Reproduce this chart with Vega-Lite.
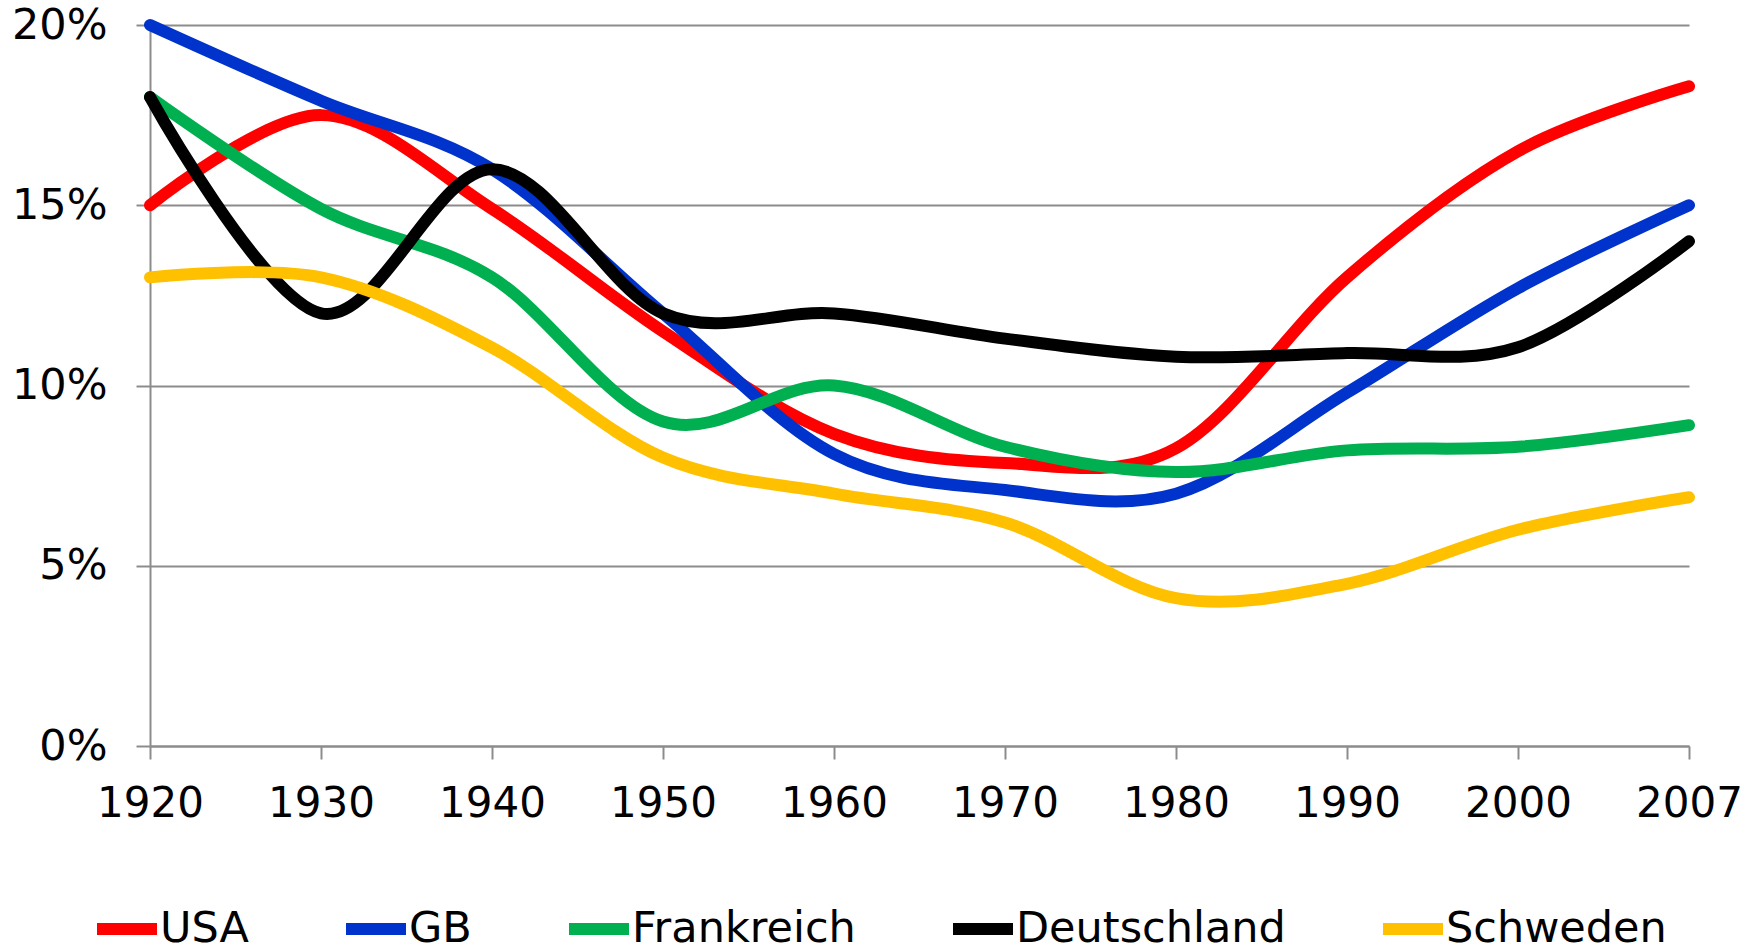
{
  "$schema": "https://vega.github.io/schema/vega-lite/v6.json",
  "autosize": {"type": "none"},
  "padding": {"left": 150, "top": 25, "right": 67, "bottom": 205},
  "width": 1539,
  "height": 721,
  "background": "white",
  "config": {
    "view": {"stroke": null},
    "font": "DejaVu Sans"
  },
  "data": {
    "values": [
      {"Jahr": "1920", "Land": "USA", "Wert": 0.150},
      {"Jahr": "1930", "Land": "USA", "Wert": 0.175},
      {"Jahr": "1940", "Land": "USA", "Wert": 0.149},
      {"Jahr": "1950", "Land": "USA", "Wert": 0.115},
      {"Jahr": "1960", "Land": "USA", "Wert": 0.0866},
      {"Jahr": "1970", "Land": "USA", "Wert": 0.0785},
      {"Jahr": "1980", "Land": "USA", "Wert": 0.0826},
      {"Jahr": "1990", "Land": "USA", "Wert": 0.130},
      {"Jahr": "2000", "Land": "USA", "Wert": 0.165},
      {"Jahr": "2007", "Land": "USA", "Wert": 0.183},
      {"Jahr": "1920", "Land": "GB", "Wert": 0.200},
      {"Jahr": "1930", "Land": "GB", "Wert": 0.179},
      {"Jahr": "1940", "Land": "GB", "Wert": 0.160},
      {"Jahr": "1950", "Land": "GB", "Wert": 0.120},
      {"Jahr": "1960", "Land": "GB", "Wert": 0.081},
      {"Jahr": "1970", "Land": "GB", "Wert": 0.071},
      {"Jahr": "1980", "Land": "GB", "Wert": 0.070},
      {"Jahr": "1990", "Land": "GB", "Wert": 0.098},
      {"Jahr": "2000", "Land": "GB", "Wert": 0.127},
      {"Jahr": "2007", "Land": "GB", "Wert": 0.150},
      {"Jahr": "1920", "Land": "Frankreich", "Wert": 0.180},
      {"Jahr": "1930", "Land": "Frankreich", "Wert": 0.149},
      {"Jahr": "1940", "Land": "Frankreich", "Wert": 0.130},
      {"Jahr": "1950", "Land": "Frankreich", "Wert": 0.090},
      {"Jahr": "1960", "Land": "Frankreich", "Wert": 0.100},
      {"Jahr": "1970", "Land": "Frankreich", "Wert": 0.083},
      {"Jahr": "1980", "Land": "Frankreich", "Wert": 0.076},
      {"Jahr": "1990", "Land": "Frankreich", "Wert": 0.082},
      {"Jahr": "2000", "Land": "Frankreich", "Wert": 0.083},
      {"Jahr": "2007", "Land": "Frankreich", "Wert": 0.089},
      {"Jahr": "1920", "Land": "Deutschland", "Wert": 0.180},
      {"Jahr": "1930", "Land": "Deutschland", "Wert": 0.120},
      {"Jahr": "1940", "Land": "Deutschland", "Wert": 0.160},
      {"Jahr": "1950", "Land": "Deutschland", "Wert": 0.120},
      {"Jahr": "1960", "Land": "Deutschland", "Wert": 0.120},
      {"Jahr": "1970", "Land": "Deutschland", "Wert": 0.113},
      {"Jahr": "1980", "Land": "Deutschland", "Wert": 0.108},
      {"Jahr": "1990", "Land": "Deutschland", "Wert": 0.109},
      {"Jahr": "2000", "Land": "Deutschland", "Wert": 0.1106},
      {"Jahr": "2007", "Land": "Deutschland", "Wert": 0.140},
      {"Jahr": "1920", "Land": "Schweden", "Wert": 0.130},
      {"Jahr": "1930", "Land": "Schweden", "Wert": 0.130},
      {"Jahr": "1940", "Land": "Schweden", "Wert": 0.1105},
      {"Jahr": "1950", "Land": "Schweden", "Wert": 0.080},
      {"Jahr": "1960", "Land": "Schweden", "Wert": 0.070},
      {"Jahr": "1970", "Land": "Schweden", "Wert": 0.062},
      {"Jahr": "1980", "Land": "Schweden", "Wert": 0.041},
      {"Jahr": "1990", "Land": "Schweden", "Wert": 0.045},
      {"Jahr": "2000", "Land": "Schweden", "Wert": 0.060},
      {"Jahr": "2007", "Land": "Schweden", "Wert": 0.069}
    ]
  },
  "mark": {"type": "line", "interpolate": "cardinal", "tension": 0, "strokeWidth": 12, "strokeCap": "round", "strokeJoin": "round"},
  "encoding": {
    "x": {
      "field": "Jahr", "type": "ordinal", "sort": null,
      "scale": {"type": "point", "padding": 0},
      "axis": {
        "title": null, "labelAngle": 0, "labelFontSize": 42, "labelColor": "black",
        "labelPadding": 24, "tickSize": 13, "tickColor": "#8c8c8c", "tickWidth": 2,
        "domainColor": "#8c8c8c", "domainWidth": 2, "grid": false, "labelFont": "DejaVu Sans",
        "labelOverlap": false
      }
    },
    "y": {
      "field": "Wert", "type": "quantitative",
      "scale": {"domain": [0, 0.2], "nice": false, "zero": true},
      "axis": {
        "title": null, "format": "%", "values": [0, 0.05, 0.1, 0.15, 0.2],
        "labelFontSize": 43, "labelColor": "black", "labelPadding": 29,
        "tickSize": 14, "tickColor": "#8c8c8c", "tickWidth": 2,
        "domainColor": "#8c8c8c", "domainWidth": 2,
        "grid": true, "gridColor": "#8c8c8c", "gridWidth": 2, "labelFont": "DejaVu Sans"
      }
    },
    "color": {
      "field": "Land", "type": "nominal",
      "scale": {
        "domain": ["USA", "GB", "Frankreich", "Deutschland", "Schweden"],
        "range": ["#FF0000", "#0033CC", "#00B050", "#000000", "#FFC000"]
      },
      "legend": {
        "title": null, "orient": "none", "direction": "horizontal",
        "legendX": -59, "legendY": 868,
        "symbolType": "stroke", "symbolSize": 3600, "symbolStrokeWidth": 12,
        "labelFontSize": 43, "labelColor": "black", "labelOffset": -3,
        "columnPadding": 73, "labelFont": "DejaVu Sans", "labelLimit": 0
      }
    }
  }
}
